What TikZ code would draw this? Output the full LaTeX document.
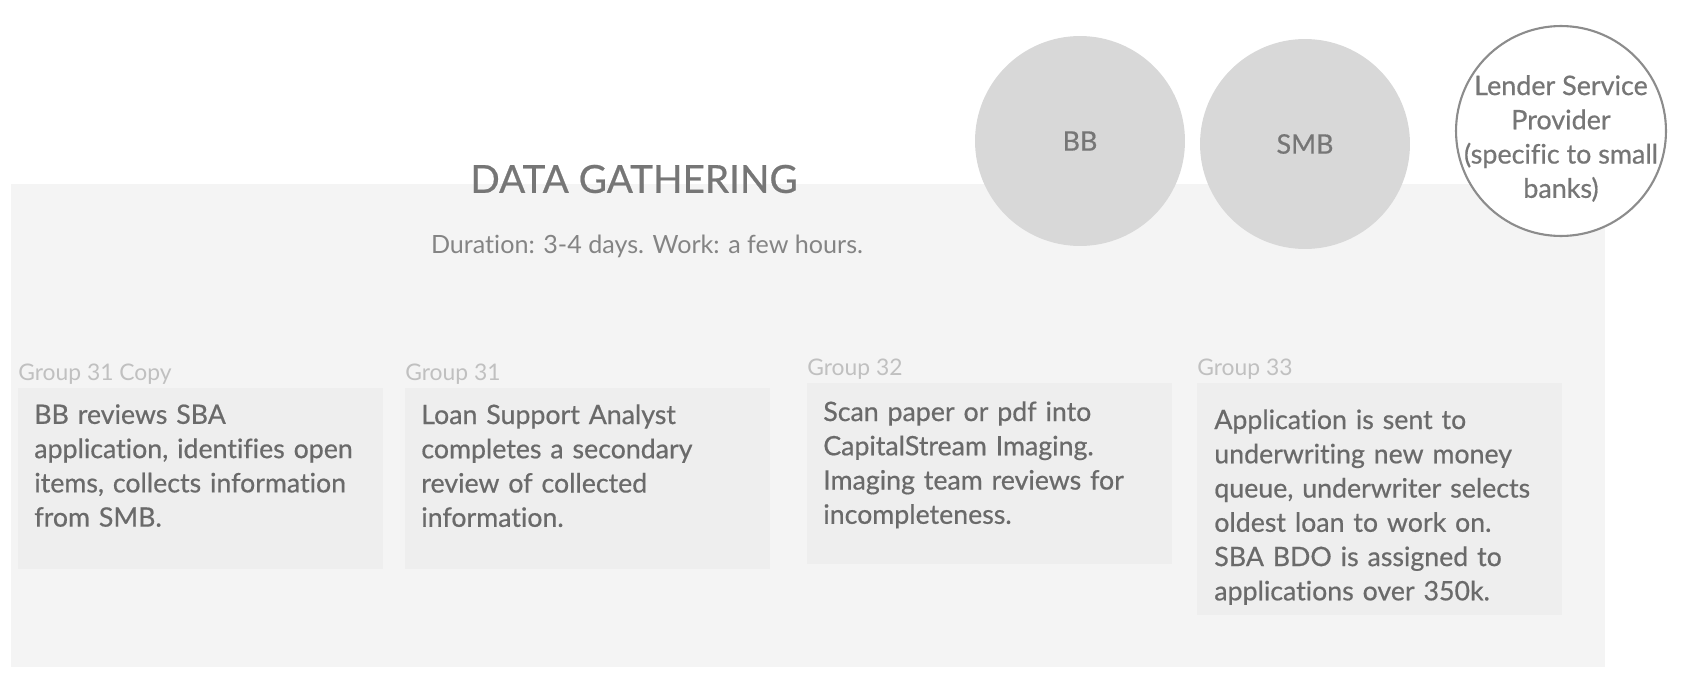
\documentclass[tikz,border=0pt]{standalone}
\usepackage{fontspec}
\setmainfont{Lato}[Ligatures=NoCommon]
\newfontfamily\medfont{Lato}[FakeBold=0.6, Ligatures=NoCommon]
\usepackage{tikz}
\definecolor{panelgray}{RGB}{244,244,244}
\definecolor{cardgray}{RGB}{238,238,238}
\definecolor{circlegray}{RGB}{216,216,216}
\definecolor{textgray}{RGB}{106,106,106}
\definecolor{titlegray}{RGB}{118,118,118}
\definecolor{labelgray}{RGB}{192,192,192}
\definecolor{ringgray}{RGB}{140,140,140}
\usetikzlibrary{positioning}

\begin{document}
\begin{tikzpicture}[
    x=0.02cm, y=-0.02cm,
    panel/.style={rectangle, fill=panelgray, anchor=north west, inner sep=0pt, minimum width=31.88cm, minimum height=9.66cm},
    card/.style={rectangle, fill=cardgray, anchor=north west, inner sep=0pt, minimum width=7.3cm},
    cardtext/.style={anchor=north west, inner sep=0pt, text width=7.2cm, align=left, text=textgray, font=\medfont\fontsize{15.2}{19.5}\selectfont},
    group/.style={anchor=base west, inner sep=0pt, text=labelgray, font=\fontsize{13}{15}\selectfont},
    actor/.style={circle, minimum size=4.2cm, inner sep=0pt},
    actorname/.style={align=center, inner sep=0pt, text=titlegray, font=\medfont\fontsize{15.3}{19.5}\selectfont}
]
    \useasboundingbox (0,0) rectangle (1688,676);
    \node[panel] (phase) at (11,184) {};

    \node[text=titlegray, font=\medfont\fontsize{22}{26}\selectfont] (title) at (634,179) {DATA GATHERING};
    \node[text=titlegray!90, font=\fontsize{14.3}{17}\selectfont] (duration) at (647,246) {Duration: 3-4 days. Work: a few hours.};

    \node[actor, fill=circlegray] (bb) at (1080,141) {};
    \node[actor, fill=circlegray] (smb) at (1305,144) {};
    \node[actor, fill=white, draw=ringgray, line width=1.2pt] (lsp) at (1561,131) {};
    \node[actorname] (bbname) at (bb) {BB};
    \node[actorname] (smbname) at (smb) {SMB};
    \node[actorname] (lspname) at ([yshift=-0.15cm]lsp.center) {Lender Service\\Provider\\(specific to small\\banks)};

    % four steps
    \node[card, minimum height=3.61cm] (card1) at (18,388) {};
    \node[card, minimum height=3.61cm] (card2) at (405,388) {};
    \node[card, minimum height=3.62cm] (card3) at (807,383) {};
    \node[card, minimum height=4.64cm] (card4) at (1197,383) {};

    \node[group] (label1) at ([yshift=0.16cm]card1.north west) {Group 31 Copy};
    \node[group] (label2) at ([yshift=0.16cm]card2.north west) {Group 31};
    \node[group] (label3) at ([yshift=0.16cm]card3.north west) {Group 32};
    \node[group] (label4) at ([yshift=0.16cm]card4.north west) {Group 33};

    \node[cardtext] (text1) at ([xshift=0.32cm, yshift=-0.32cm]card1.north west) {BB reviews SBA\\application, identifies open\\items, collects information\\from SMB.};
    \node[cardtext] (text2) at ([xshift=0.32cm, yshift=-0.32cm]card2.north west) {Loan Support Analyst\\completes a secondary\\review of collected\\information.};
    \node[cardtext] (text3) at ([xshift=0.32cm, yshift=-0.36cm]card3.north west) {Scan paper or pdf into\\CapitalStream Imaging.\\Imaging team reviews for\\incompleteness.};
    \node[cardtext] (text4) at ([xshift=0.34cm, yshift=-0.52cm]card4.north west) {Application is sent to\\underwriting new money\\queue, underwriter selects\\oldest loan to work on.\\SBA BDO is assigned to\\applications over 350k.};
\end{tikzpicture}
\end{document}
